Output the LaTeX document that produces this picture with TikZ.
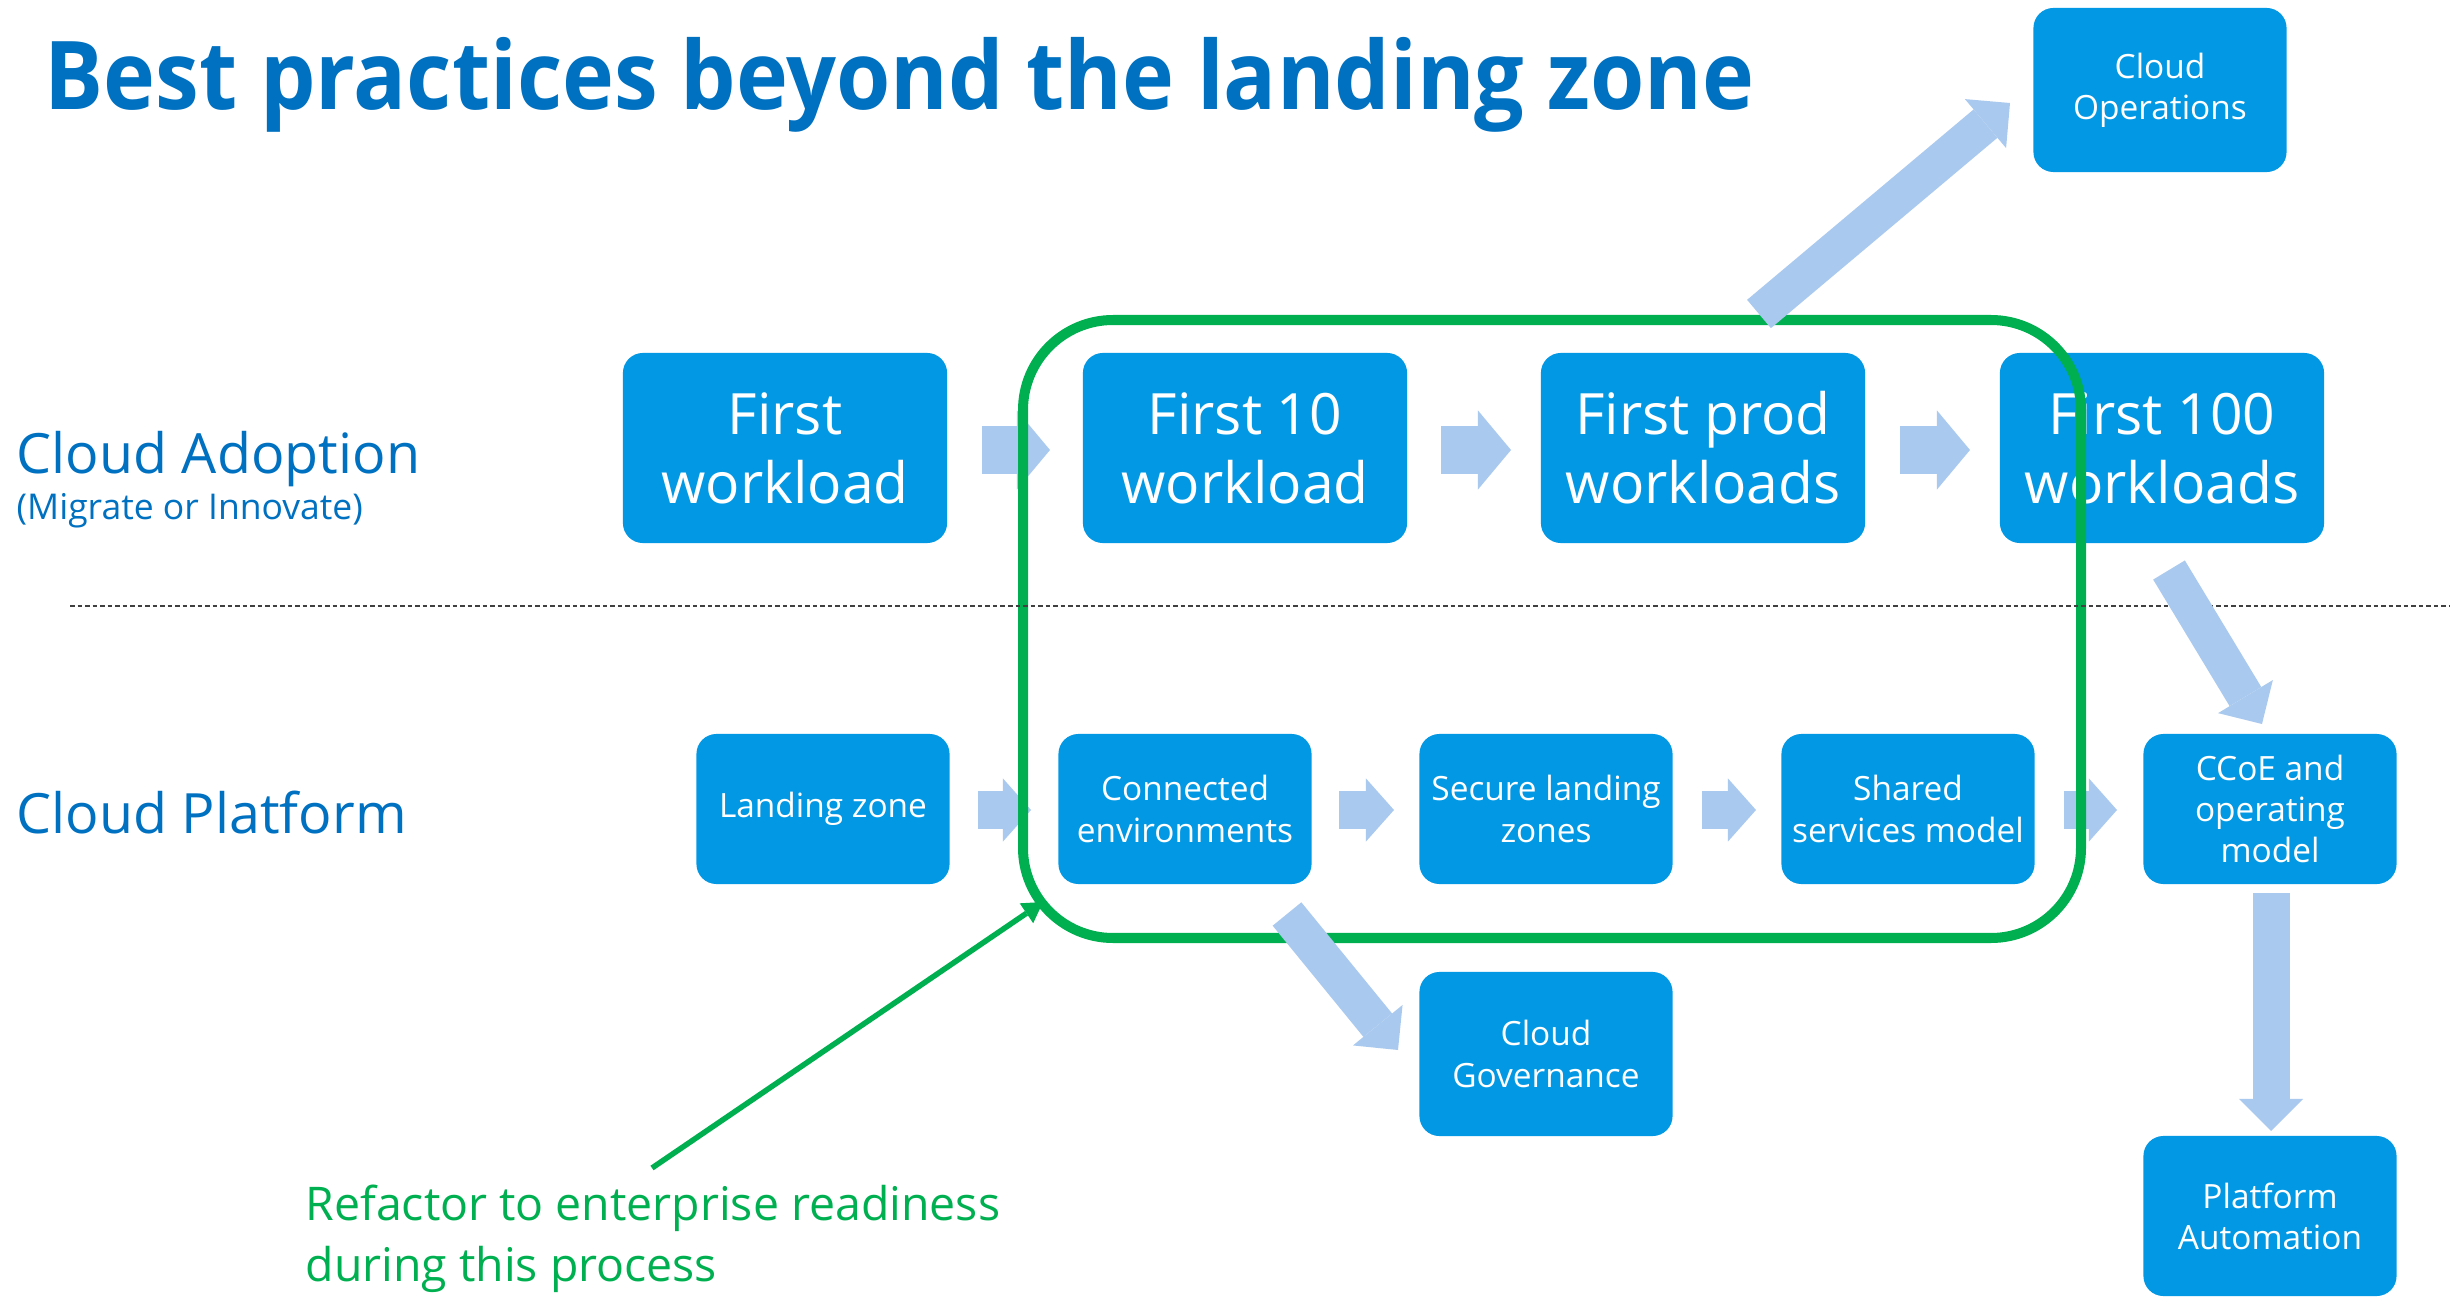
\documentclass[tikz,border=0pt]{standalone}
\usepackage{fontspec}
\setmainfont{Open Sans}
\newfontfamily\titlefont[FakeStretch=0.925]{Open Sans}
\usetikzlibrary{arrows.meta,calc}
\definecolor{boxblue}{RGB}{3,152,227}
\definecolor{titleblue}{RGB}{0,112,192}
\definecolor{arrblue}{RGB}{170,201,238}
\definecolor{grn}{RGB}{0,176,80}
\begin{document}
\begin{tikzpicture}[x=0.01cm,y=-0.01cm,
  box/.style={fill=boxblue,rounded corners=0.2cm,text=white,align=center,inner sep=0pt},
  bigbox/.style={box,minimum width=3.24cm,minimum height=1.9cm,font=\fontsize{16.2}{19.6}\selectfont},
  smallbox/.style={box,minimum width=2.53cm,minimum height=1.5cm,font=\fontsize{9.5}{11.7}\selectfont},
  bigarrow/.style={draw=arrblue,line width=0.47cm,-{Triangle[length=0.33cm,width=0.79cm,line width=0pt]}},
  barrow/.style={draw=arrblue,line width=0.38cm,-{Triangle[length=0.28cm,width=0.63cm,line width=0pt]}},
  diagarrow/.style={draw=arrblue,line width=0.37cm,-{Triangle[length=0.32cm,width=0.64cm,line width=0pt]}},
  rowlabel/.style={anchor=base west,text=titleblue,inner sep=0pt,font=\fontsize{15.8}{18}\selectfont},
  greentext/.style={anchor=base west,text=grn,inner sep=0pt,font=\fontsize{13.2}{15}\selectfont}
]
\useasboundingbox (0,0) rectangle (2450,1297);

% title and row labels
\node[anchor=base west,text=titleblue,inner sep=0pt,font=\fontsize{27}{32}\titlefont\bfseries] (title) at (44,110) {Best practices beyond the landing zone};
\node[rowlabel] (adopt) at (16,473) {Cloud Adoption};
\node[anchor=base west,text=titleblue,inner sep=0pt,font=\fontsize{10.1}{12}\selectfont] (migr) at (16,520) {(Migrate or Innovate)};
\node[rowlabel] (plat) at (16,833) {Cloud Platform};

% dashed separator
\coordinate (dashL) at (70,606);
\coordinate (dashR) at (2450,606);

% top row boxes
\node[bigbox] (fw) at (785,448) {First\\workload};
\node[bigbox] (f10) at (1245,448) {First 10\\workload};
\node[bigbox] (fprod) at (1703,448) {First prod\\workloads};
\node[bigbox] (f100) at (2162,448) {First 100\\workloads};

% bottom row boxes
\node[smallbox] (lz) at (823,809) {Landing zone};
\node[smallbox] (conn) at (1185,809) {Connected\\environments};
\node[smallbox] (sec) at (1546,809) {Secure landing\\zones};
\node[smallbox] (shared) at (1908,809) {Shared\\services model};
\node[smallbox] (ccoe) at (2270,809) {CCoE and\\operating\\model};

% side boxes
\node[smallbox,minimum height=1.64cm] (ops) at (2160,90) {Cloud\\Operations};
\node[smallbox,minimum height=1.64cm] (gov) at (1546,1054) {Cloud\\Governance};
\node[smallbox,minimum height=1.6cm] (auto) at (2270,1216) {Platform\\Automation};

% horizontal block arrows, top row
\coordinate (a1s) at (982,450);  \coordinate (a1e) at (1050,450);
\coordinate (a2s) at (1441,450); \coordinate (a2e) at (1511,450);
\coordinate (a3s) at (1900,450); \coordinate (a3e) at (1970,450);
\draw[bigarrow] (a1s) -- (a1e);
\draw[bigarrow] (a2s) -- (a2e);
\draw[bigarrow] (a3s) -- (a3e);

% horizontal block arrows, bottom row
\coordinate (b1s) at (978,810);  \coordinate (b1e) at (1031,810);
\coordinate (b2s) at (1339,810); \coordinate (b2e) at (1394,810);
\coordinate (b3s) at (1702,810); \coordinate (b3e) at (1756,810);
\coordinate (b4s) at (2064,810); \coordinate (b4e) at (2117,810);
\draw[barrow] (b1s) -- (b1e);
\draw[barrow] (b2s) -- (b2e);
\draw[barrow] (b3s) -- (b3e);
\draw[barrow] (b4s) -- (b4e);

% green enclosure
\draw[grn,line width=0.1cm,rounded corners=0.9cm] (1023,320) rectangle (2081,938);

% dashed line
\draw[black!75,line width=0.02cm,dash pattern=on 0.045cm off 0.03cm] (dashL) -- (dashR);

% diagonal and vertical block arrows
\coordinate (opsS) at (1759,314);  \coordinate (opsE) at (2010,103);
\coordinate (govS) at (1287,914);  \coordinate (govE) at (1398,1050);
\coordinate (ccS) at (2169,570);   \coordinate (ccE) at (2262,724);
\coordinate (auS) at (2271,893);   \coordinate (auE) at (2271,1131);
\draw[diagarrow] (opsS) -- (opsE);
\draw[diagarrow] (govS) -- (govE);
\draw[diagarrow] (ccS) -- (ccE);
\draw[diagarrow] (auS) -- (auE);

% annotation
\node[greentext] (ref1) at (305,1220) {Refactor to enterprise readiness};
\node[greentext] (ref2) at (305,1281) {during this process};
\coordinate (annS) at (652,1168);
\coordinate (annE) at (1043,902);
\draw[grn,line width=0.055cm,-{Triangle[length=0.2cm,width=0.24cm,line width=0pt]}] (annS) -- (annE);
\end{tikzpicture}
\end{document}
